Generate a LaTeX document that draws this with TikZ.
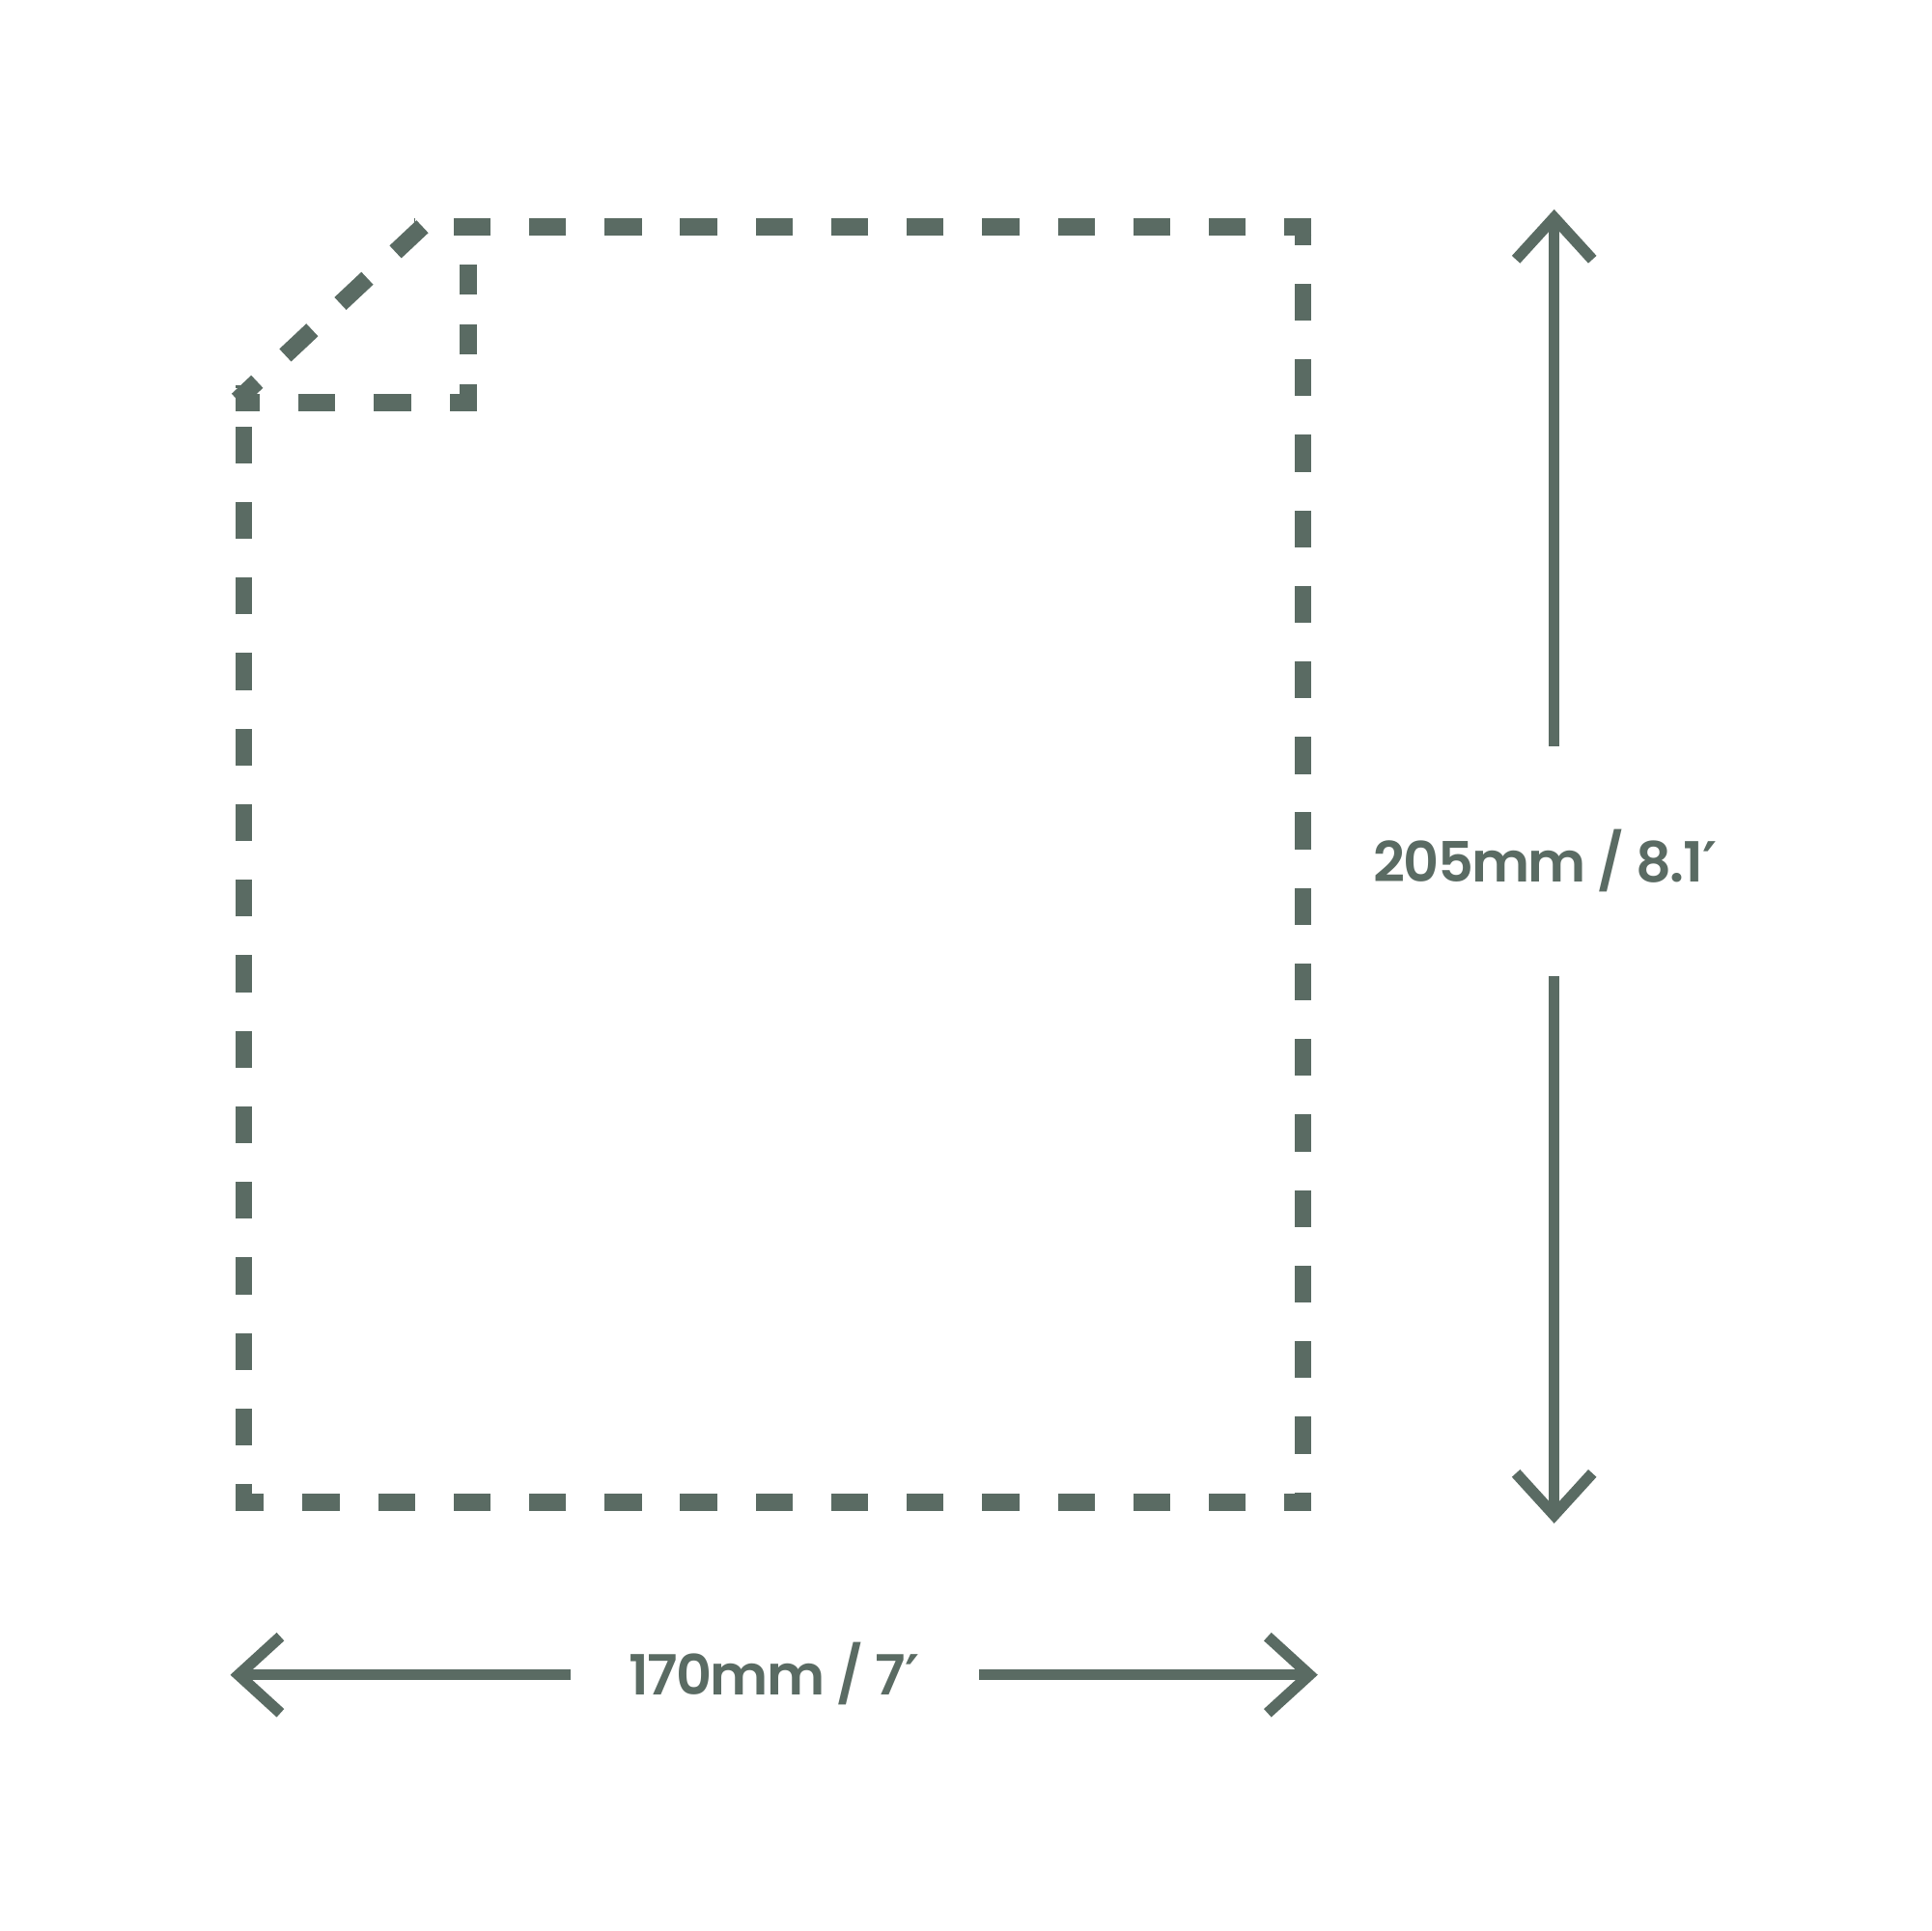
\documentclass[tikz,border=0pt]{standalone}
\usepackage{fontspec}
\setmainfont{Poppins}[BoldFont={Poppins SemiBold}, BoldFeatures={LetterSpace=-3}]
\newfontfamily\primefont{DejaVu Sans}
\usepackage{tikz}
\usetikzlibrary{arrows.meta}
\definecolor{sage}{HTML}{5A6B63}
\tikzstyle{cutline} = [draw=sage, line width=0.14cm, dash pattern=on 0.3cm off
0.313cm, dash phase=0.08cm, shorten <=-0.07cm, shorten >=-0.07cm]
\tikzstyle{foldline} = [cutline, dash pattern=on 0.245cm off 0.24cm, dash
phase=0.025cm]
\tikzstyle{size} = [text=sage, font=\fontsize{12.8}{16}\selectfont\bfseries,
inner sep=0pt]
\tikzstyle{arrow} = [draw=sage, line width=0.09cm,
-{Straight Barb[length=0.34cm, width=0.62cm, line width=0.09cm]}]

\begin{document}
\begin{tikzpicture}[x=0.01cm, y=-0.01cm]
\useasboundingbox (0,0) rectangle (1568,1568);

% corners of the sheet
\coordinate (tr) at (1058,184);
\coordinate (br) at (1058,1220);
\coordinate (bl) at (198,1220);
\coordinate (tip) at (198,320);
\coordinate (edge) at (343,184);
\coordinate (fold) at (380,327);

% sheet outline
\draw[cutline] (tr) -- (edge);
\draw[cutline] (tr) -- (br);
\draw[cutline] (br) -- (bl);
\draw[cutline] (bl) -- (tip);
\draw[cutline, dash phase=0cm, shorten <=0cm] (edge) -- (tip);

% folded corner
\draw[foldline] (fold) -- (fold |- tr);
\draw[cutline] (fold) -- (fold -| bl);

% height
\node(height)[size, minimum height=1.85cm] at (1255,699)
{205mm / 8.1{\primefont ′}};
\coordinate (htop) at (1262,170);
\coordinate (hbot) at (1262,1237);
\draw[arrow] (height.north -| htop) -- (htop);
\draw[arrow] (height.south -| hbot) -- (hbot);

% width
\node(width)[size, minimum width=3.3cm] at (629,1359) {170mm / 7{\primefont ′}};
\coordinate (wleft) at (187,1360);
\coordinate (wright) at (1070,1360);
\draw[arrow] (width.west |- wleft) -- (wleft);
\draw[arrow] (width.east |- wright) -- (wright);

\end{tikzpicture}
\end{document}
